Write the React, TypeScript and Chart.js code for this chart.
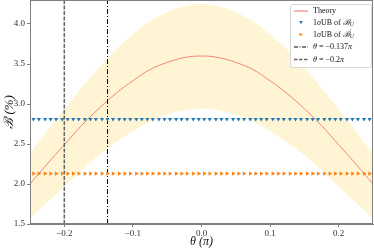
import { useEffect, useRef } from 'react';
import { Chart, registerables } from 'chart.js';
Chart.register(...registerables);

const thetaGrid = [-0.25, -0.225, -0.2, -0.175, -0.15, -0.125, -0.1, -0.075, -0.05, -0.025, 0, 0.025, 0.05, 0.075, 0.1, 0.125, 0.15, 0.175, 0.2, 0.225, 0.25];
const theory = [2.0, 2.25, 2.49, 2.73, 2.94, 3.13, 3.29, 3.43, 3.52, 3.58, 3.6, 3.58, 3.52, 3.43, 3.29, 3.13, 2.94, 2.73, 2.49, 2.25, 2.0];
const bandUpper = [2.38, 2.66, 2.93, 3.2, 3.45, 3.68, 3.87, 4.03, 4.15, 4.22, 4.25, 4.22, 4.15, 4.03, 3.87, 3.68, 3.45, 3.2, 2.93, 2.66, 2.38];
const bandLower = [1.57, 1.77, 1.97, 2.17, 2.36, 2.52, 2.66, 2.78, 2.87, 2.92, 2.94, 2.92, 2.87, 2.78, 2.66, 2.52, 2.36, 2.17, 1.97, 1.77, 1.57];
const markerTheta = [
  -0.245, -0.237, -0.228, -0.22, -0.212, -0.203, -0.195, -0.187, -0.179, -0.17,
  -0.162, -0.154, -0.145, -0.137, -0.129, -0.12, -0.112, -0.104, -0.095, -0.087,
  -0.079, -0.071, -0.062, -0.054, -0.046, -0.037, -0.029, -0.021, -0.012, -0.004,
  0.004, 0.012, 0.021, 0.029, 0.037, 0.046, 0.054, 0.062, 0.071, 0.079,
  0.087, 0.095, 0.104, 0.112, 0.12, 0.129, 0.137, 0.145, 0.154, 0.162,
  0.17, 0.179, 0.187, 0.195, 0.203, 0.212, 0.22, 0.228, 0.237, 0.245,
];
const ubB = 2.81;
const ubBprime = 2.13;
const thetaDashDot = -0.137;
const thetaDashed = -0.2;
const xTicks = [-0.2, -0.1, 0, 0.1, 0.2];
const yTicks = [1.5, 2.0, 2.5, 3.0, 3.5, 4.0];
const xRange = [-0.25, 0.25];
const yRange = [1.5, 4.3];

const SERIF = '"Liberation Serif", "DejaVu Serif", serif';
const C_THEORY = '#f4837d';
const C_BAND = 'rgba(255, 236, 179, 0.55)';
const C_BLUE = '#1f77b4';
const C_ORANGE = '#ff7f0e';
const C_DASHED = '#666666';
const C_SPINE = '#808080';

type Seg = { t: string; italic?: boolean; sub?: boolean; sup?: boolean };

function drawRich(ctx: CanvasRenderingContext2D, x: number, y: number, segs: Seg[], size: number) {
  let cx = x;
  let lastW = 0;
  for (const s of segs) {
    const fs = s.sub || s.sup ? size * 0.7 : size;
    ctx.font = `${s.italic ? 'italic ' : ''}${fs}px ${SERIF}`;
    const dy = s.sub ? size * 0.3 : s.sup ? -size * 0.35 : 0;
    if (s.sup) {
      ctx.fillText(s.t, cx, y + dy);
      lastW = ctx.measureText(s.t).width;
      continue;
    }
    ctx.fillText(s.t, cx, y + dy);
    cx += ctx.measureText(s.t).width;
    lastW = 0;
  }
  return cx + lastW;
}

function triangle(ctx: CanvasRenderingContext2D, x: number, y: number, r: number, dir: 'down' | 'right', color: string) {
  ctx.beginPath();
  if (dir === 'down') {
    ctx.moveTo(x - r, y - r * 0.8);
    ctx.lineTo(x + r, y - r * 0.8);
    ctx.lineTo(x, y + r);
  } else {
    ctx.moveTo(x - r * 0.8, y - r);
    ctx.lineTo(x - r * 0.8, y + r);
    ctx.lineTo(x + r, y);
  }
  ctx.closePath();
  ctx.fillStyle = color;
  ctx.fill();
}

const framePlugin = {
  id: 'frame',
  afterDatasetsDraw(chart: any) {
    const { ctx, chartArea: a } = chart;
    ctx.save();
    ctx.strokeStyle = C_SPINE;
    ctx.lineWidth = 1;
    ctx.strokeRect(a.left + 0.5, a.top + 0.5, a.right - a.left - 1, a.bottom - a.top - 1);
    ctx.restore();
  },
};

const legendPlugin = {
  id: 'customLegend',
  afterDraw(chart: any) {
    const ctx: CanvasRenderingContext2D = chart.ctx;
    const a = chart.chartArea;
    const bx = a.right - 83;
    const by = a.top + 4;
    const bw = 81;
    const bh = 63;
    ctx.save();
    ctx.fillStyle = 'rgba(255,255,255,0.85)';
    ctx.strokeStyle = '#d8d8d8';
    ctx.lineWidth = 1;
    ctx.beginPath();
    ctx.roundRect(bx + 0.5, by + 0.5, bw, bh, 2);
    ctx.fill();
    ctx.stroke();

    const hx0 = bx + 4;
    const hx1 = bx + 18;
    const tx = bx + 23;
    const rows = [bx, by + 7, by + 18.5, by + 30.5, by + 43, by + 55.5];
    const size = 8;
    ctx.fillStyle = '#111';
    ctx.textBaseline = 'middle';
    ctx.textAlign = 'left';

    ctx.strokeStyle = C_THEORY;
    ctx.lineWidth = 1.2;
    ctx.beginPath();
    ctx.moveTo(hx0, rows[1]);
    ctx.lineTo(hx1, rows[1]);
    ctx.stroke();
    ctx.fillStyle = '#111';
    drawRich(ctx, tx, rows[1], [{ t: 'Theory' }], size);

    triangle(ctx, (hx0 + hx1) / 2, rows[2], 1.8, 'down', C_BLUE);
    ctx.fillStyle = '#111';
    drawRich(ctx, tx, rows[2], [{ t: '1' }, { t: 'σ', italic: true }, { t: 'UB of ' }, { t: 'ℬ', italic: true }, { t: 'U', italic: true, sub: true }], size);

    triangle(ctx, (hx0 + hx1) / 2, rows[3], 1.8, 'right', C_ORANGE);
    ctx.fillStyle = '#111';
    drawRich(ctx, tx, rows[3], [{ t: '1' }, { t: 'σ', italic: true }, { t: 'UB of ' }, { t: 'ℬ', italic: true }, { t: '′', sup: true }, { t: 'U', italic: true, sub: true }], size);

    ctx.strokeStyle = '#000';
    ctx.lineWidth = 1;
    ctx.setLineDash([4, 1.5, 1, 1.5]);
    ctx.beginPath();
    ctx.moveTo(hx0, rows[4]);
    ctx.lineTo(hx1, rows[4]);
    ctx.stroke();
    ctx.fillStyle = '#111';
    drawRich(ctx, tx, rows[4], [{ t: 'θ', italic: true }, { t: ' = −0.137' }, { t: 'π', italic: true }], size);

    ctx.strokeStyle = C_DASHED;
    ctx.lineWidth = 1.4;
    ctx.setLineDash([3.5, 1.5]);
    ctx.beginPath();
    ctx.moveTo(hx0, rows[5]);
    ctx.lineTo(hx1, rows[5]);
    ctx.stroke();
    ctx.setLineDash([]);
    ctx.fillStyle = '#111';
    drawRich(ctx, tx, rows[5], [{ t: 'θ', italic: true }, { t: ' = −0.2' }, { t: 'π', italic: true }], size);
    ctx.restore();
  },
};

const fmt = (v: number, d: number) => (v < 0 ? '−' : '') + Math.abs(v).toFixed(d);

export default function App() {
  const ref = useRef<HTMLCanvasElement>(null);
  useEffect(() => {
    document.body.style.margin = '0';
    const pts = (ys: number[]) => thetaGrid.map((x, i) => ({ x, y: ys[i] }));
    const chart = new Chart(ref.current!, {
      type: 'scatter',
      data: {
        datasets: [
          {
            label: 'ub',
            data: markerTheta.map((x) => ({ x, y: ubB })),
            pointStyle: 'triangle',
            rotation: 180,
            pointRadius: 2.4,
            pointHoverRadius: 2.4,
            backgroundColor: C_BLUE,
            borderWidth: 0,
            showLine: false,
            order: 1,
          },
          {
            label: 'ubp',
            data: markerTheta.map((x) => ({ x, y: ubBprime })),
            pointStyle: 'triangle',
            rotation: 90,
            pointRadius: 2.4,
            pointHoverRadius: 2.4,
            backgroundColor: C_ORANGE,
            borderWidth: 0,
            showLine: false,
            order: 1,
          },
          {
            label: 'dashdot',
            data: [{ x: thetaDashDot, y: yRange[0] }, { x: thetaDashDot, y: yRange[1] }],
            showLine: true,
            borderColor: '#000',
            borderWidth: 1,
            borderDash: [5, 2, 1, 2],
            pointRadius: 0,
            pointHoverRadius: 0,
            order: 2,
          },
          {
            label: 'dashed',
            data: [{ x: thetaDashed, y: yRange[0] }, { x: thetaDashed, y: yRange[1] }],
            showLine: true,
            borderColor: C_DASHED,
            borderWidth: 1.5,
            borderDash: [4, 1.5],
            pointRadius: 0,
            pointHoverRadius: 0,
            order: 2,
          },
          {
            label: 'Theory',
            data: pts(theory),
            showLine: true,
            borderColor: C_THEORY,
            borderWidth: 1,
            pointRadius: 0,
            pointHoverRadius: 0,
            tension: 0.4,
            order: 3,
          },
          {
            label: 'upper',
            data: pts(bandUpper),
            showLine: true,
            borderWidth: 0,
            borderColor: 'rgba(0,0,0,0)',
            backgroundColor: C_BAND,
            fill: '+1',
            pointRadius: 0,
            pointHoverRadius: 0,
            tension: 0.4,
            order: 5,
          },
          {
            label: 'lower',
            data: pts(bandLower),
            showLine: true,
            borderWidth: 0,
            borderColor: 'rgba(0,0,0,0)',
            pointRadius: 0,
            pointHoverRadius: 0,
            tension: 0.4,
            order: 6,
          },
        ],
      },
      options: {
        animation: false,
        responsive: false,
        events: [],
        layout: { autoPadding: false, padding: { top: 0, right: 1, left: 0, bottom: 0 } },
        plugins: { legend: { display: false }, tooltip: { enabled: false } },
        scales: {
          x: {
            type: 'linear',
            min: xRange[0],
            max: xRange[1],
            afterBuildTicks: (s: any) => {
              s.ticks = xTicks.map((v) => ({ value: v }));
            },
            afterFit: (s: any) => {
              s.height = 25;
              s.paddingLeft = 0;
              s.paddingRight = 0;
            },
            ticks: {
              callback: (v: any) => fmt(Number(v), 1),
              font: { family: SERIF, size: 9 },
              color: '#333',
              padding: 1,
              maxRotation: 0,
              autoSkip: false,
            },
            grid: { drawOnChartArea: false, drawTicks: true, tickLength: 3, color: C_SPINE },
            border: { color: C_SPINE },
            title: {
              display: true,
              text: 'θ (π)',
              font: { family: SERIF, size: 12, style: 'italic' },
              color: '#111',
              padding: { top: 0, bottom: 0 },
            },
          },
          y: {
            type: 'linear',
            min: yRange[0],
            max: yRange[1],
            afterBuildTicks: (s: any) => {
              s.ticks = yTicks.map((v) => ({ value: v }));
            },
            afterFit: (s: any) => {
              s.width = 30;
              s.paddingTop = 0;
              s.paddingBottom = 0;
            },
            ticks: {
              callback: (v: any) => fmt(Number(v), 1),
              font: { family: SERIF, size: 9 },
              color: '#333',
              padding: 2,
              autoSkip: false,
            },
            grid: { drawOnChartArea: false, drawTicks: true, tickLength: 3, color: C_SPINE },
            border: { color: C_SPINE },
            title: {
              display: true,
              text: 'ℬ (%)',
              font: { family: SERIF, size: 13, style: 'italic' },
              color: '#111',
              padding: { top: 2, bottom: 0 },
            },
          },
        },
      },
      plugins: [framePlugin, legendPlugin],
    } as any);
    return () => chart.destroy();
  }, []);
  return (
    <div style={{ width: 374, height: 249 }}>
      <canvas ref={ref} width={374} height={249} />
    </div>
  );
}
